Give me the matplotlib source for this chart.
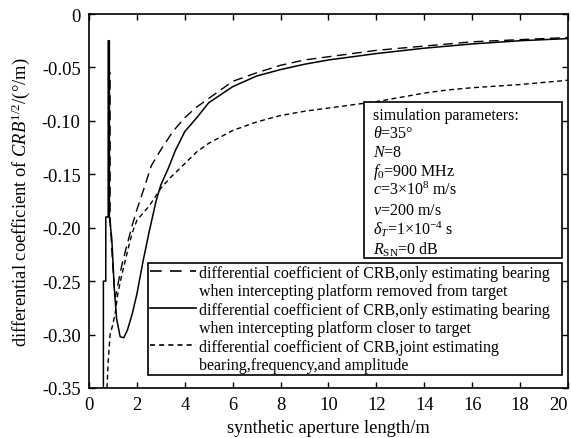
import matplotlib
matplotlib.use("Agg")
import matplotlib.pyplot as plt
from matplotlib.lines import Line2D
from matplotlib.patches import Rectangle

plt.rcParams['font.family'] = ['Liberation Serif', 'DejaVu Serif']
plt.rcParams['mathtext.fontset'] = 'custom'
plt.rcParams['mathtext.rm'] = 'Liberation Serif'
plt.rcParams['mathtext.it'] = 'Liberation Serif:italic'
plt.rcParams['axes.unicode_minus'] = False

# curve 1: only bearing, platform moving away from target (long dash)
x_removed = [0.82, 0.82, 0.88, 0.88, 0.95, 1.05, 1.1, 1.25, 1.4, 1.6, 1.8, 2.0, 2.3, 2.6,
             3.0, 3.5, 4.0, 4.5, 5, 6, 7, 8, 9, 10, 12, 14, 16, 18, 20]
y_removed = [-0.19, -0.055, -0.055, -0.19, -0.22, -0.255, -0.265, -0.248, -0.232, -0.215,
             -0.198, -0.183, -0.163, -0.142, -0.127, -0.110, -0.097, -0.087, -0.079, -0.063,
             -0.055, -0.048, -0.043, -0.040, -0.034, -0.030, -0.026, -0.024, -0.022]

# curve 2: only bearing, platform closer to target (solid)
x_closer = [0.6, 0.6, 0.7, 0.7, 0.8, 0.8, 0.85, 0.85, 0.95, 1.05, 1.15, 1.3, 1.45, 1.6, 1.8,
            2.0, 2.25, 2.5, 2.8, 3.0, 3.3, 3.6, 4.0, 4.5, 5, 6, 7, 8, 9, 10, 11, 12, 14, 16,
            18, 20]
y_closer = [-0.35, -0.25, -0.25, -0.19, -0.19, -0.025, -0.025, -0.19, -0.21, -0.255, -0.285,
            -0.302, -0.303, -0.296, -0.281, -0.262, -0.232, -0.205, -0.175, -0.160, -0.145,
            -0.128, -0.110, -0.097, -0.083, -0.068, -0.058, -0.052, -0.047, -0.043, -0.040,
            -0.037, -0.032, -0.028, -0.025, -0.023]

# curve 3: joint estimation of bearing, frequency, amplitude (short dash)
x_joint = [0.75, 0.8, 0.88, 1.0, 1.1, 1.2, 1.36, 1.63, 1.8, 2.0, 2.5, 2.8, 3.0, 3.4, 4.0,
           4.5, 5, 6, 7, 8, 9, 10, 11, 12, 14, 15, 16, 18, 20]
y_joint = [-0.35, -0.325, -0.30, -0.29, -0.279, -0.262, -0.245, -0.22, -0.205, -0.193,
           -0.18, -0.17, -0.163, -0.153, -0.14, -0.129, -0.121, -0.109, -0.101, -0.095,
           -0.091, -0.088, -0.085, -0.082, -0.074, -0.071, -0.069, -0.066, -0.062]

x_ticks = [0, 2, 4, 6, 8, 10, 12, 14, 16, 18, 20]
y_ticks = [0, -0.05, -0.10, -0.15, -0.20, -0.25, -0.30, -0.35]
y_tick_labels = ["0", "-0.05", "-0.10", "-0.15", "-0.20", "-0.25", "-0.30", "-0.35"]

labels = [
    "differential coefficient of CRB,only estimating bearing",
    "when intercepting platform removed from target",
    "differential coefficient of CRB,only estimating bearing",
    "when intercepting platform closer to target",
    "differential coefficient of CRB,joint estimating",
    "bearing,frequency,and amplitude",
]

params = [
    "simulation parameters:",
    r"$\theta$=35°",
    r"$N$=8",
    r"$f_0$=900 MHz",
    r"$c$=3×10$^8$ m/s",
    r"$v$=200 m/s",
    r"$\delta_T$=1×10$^{-4}$ s",
    r"$R_{\rm SN}$=0 dB",
]

fig = plt.figure(figsize=(5.71, 4.39), dpi=100)
ax = fig.add_axes([0.1559, 0.1139, 0.8388, 0.8519])

ax.plot(x_removed, y_removed, color='black', lw=1.0, dashes=(7, 4))
ax.plot(x_closer, y_closer, color='black', lw=1.1)
ax.plot(x_joint, y_joint, color='black', lw=1.0, dashes=(3.5, 2.5))

ax.set_xlim(0, 20)
ax.set_ylim(-0.35, 0)
ax.set_xticks(x_ticks)
ax.set_yticks(y_ticks)
ax.set_yticklabels(y_tick_labels)
ax.tick_params(direction='in', top=True, right=True, length=4, width=1,
               labelsize=13.3, pad=6)
ax.get_xticklabels()[-1].set_horizontalalignment('right')
for s in ax.spines.values():
    s.set_linewidth(1.2)

ax.set_xlabel("synthetic aperture length/m", fontsize=13.3, labelpad=4)
ax.set_ylabel(r"differential coefficient of $\mathit{CRB}^{\mathrm{1/2}}$/(°/m)",
              fontsize=13.3, labelpad=7)

# legend: two text rows per curve, handle on the first row
handles = [
    Line2D([], [], color='black', lw=1.2, dashes=(7, 5)),
    Line2D([], [], color='none'),
    Line2D([], [], color='black', lw=1.2),
    Line2D([], [], color='none'),
    Line2D([], [], color='black', lw=1.2, dashes=(3, 2.5)),
    Line2D([], [], color='none'),
]
leg = ax.legend(handles, labels, loc='lower left',
                bbox_to_anchor=(0.123, 0.035, 0.864, 0.30), mode='expand',
                fontsize=11.5, frameon=True, fancybox=False, framealpha=1,
                edgecolor='black', borderpad=0.12, labelspacing=0.15,
                handlelength=2.9, handletextpad=0.15, borderaxespad=0)
leg.get_frame().set_linewidth(1.2)

# simulation parameters box
ax.add_patch(Rectangle((0.574, 0.348), 0.413, 0.417, transform=ax.transAxes,
                       facecolor='white', edgecolor='black', lw=1.2, zorder=4))
baselines = [120, 138, 157, 176, 195, 215, 235, 255]
for txt, p in zip(params, baselines):
    ax.text(0.593, (389 - p) / 374, txt, transform=ax.transAxes, fontsize=11.5,
            va='baseline', ha='left', zorder=5)

fig.savefig("out.png", dpi=100)
